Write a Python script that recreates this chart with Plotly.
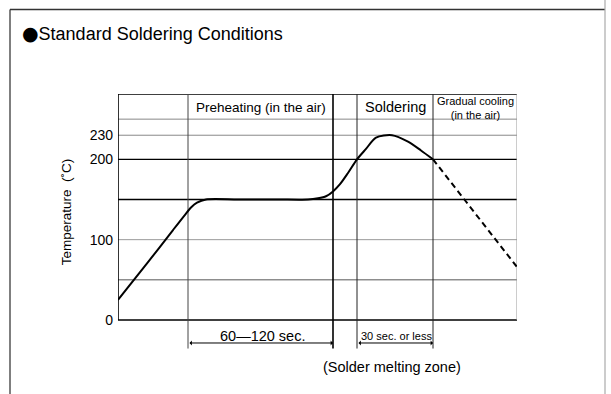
import plotly.graph_objects as go

# ---- data -------------------------------------------------------------
# temperature profile (time in arbitrary units, temperature in deg C)
profile_t = [0, 30, 55, 67, 73, 79, 88, 120, 160, 190, 200, 208, 215, 222,
             230, 239, 248, 258, 274, 290, 303, 315]
profile_temp = [25, 72, 112, 131, 140, 146, 150, 150, 150, 150, 151.5, 154,
                160, 169, 183, 200, 213, 227, 230, 222, 211, 200]
cooling_t = [315, 399]
cooling_temp = [200, 66]

# zone boundaries on the time axis
preheat_start, preheat_end = 70, 215
melt_start, solder_end = 239, 315
t_end = 399

# temperature ticks and guide levels
tick_vals = [0, 100, 200, 230]
tick_text = ["0", "100", "200", "230"]
header_level = 250
y_top = 281.3
y_bottom = -64.7

FONT = "Liberation Sans, Arial, Helvetica, sans-serif"

W, H = 611, 394
ML, MR, MT, MB = 118, 94, 94, 22


def px_x(p):
    return (p - ML) / (W - ML - MR)


def px_y(p):
    return (H - MB - p) / (H - MT - MB)


fig = go.Figure()

fig.add_trace(go.Scatter(
    x=profile_t, y=profile_temp, mode="lines",
    line=dict(color="black", width=2, shape="spline", smoothing=0.8),
    hoverinfo="skip", showlegend=False))
fig.add_trace(go.Scatter(
    x=cooling_t, y=cooling_temp, mode="lines",
    line=dict(color="black", width=2, dash="6px,4px"),
    hoverinfo="skip", showlegend=False))

shapes = []


def hline(y, color, width, x0=0, x1=t_end):
    shapes.append(dict(type="line", xref="x", yref="y", x0=x0, x1=x1, y0=y, y1=y,
                       line=dict(color=color, width=width), layer="below"))


def vline(x, color, width, y0=0, y1=y_top):
    shapes.append(dict(type="line", xref="x", yref="y", x0=x, x1=x, y0=y0, y1=y1,
                       line=dict(color=color, width=width), layer="below"))


# horizontal guides
hline(50, "#555", 1)
hline(100, "#999", 1)
hline(150, "#000", 1.3)
hline(200, "#000", 1.3)
hline(230, "#888", 1)
hline(header_level, "#888", 1)
hline(y_top, "#000", 1.3)
hline(0, "#000", 1.6)

# vertical zone lines (extended below the axis for the dimension marks)
vline(0, "#000", 1.6)
vline(t_end, "#999", 1)
vline(preheat_start, "#444", 1, y0=-35.5)
vline(preheat_end, "#000", 1.6, y0=-35.5)
vline(melt_start, "#222", 1, y0=-35.5)
vline(solder_end, "#222", 1, y0=-35.5)

# outer frame
shapes.append(dict(type="line", xref="paper", yref="paper",
                   x0=px_x(10), x1=px_x(10), y0=px_y(9.5), y1=px_y(H),
                   line=dict(color="#555", width=1.5)))
shapes.append(dict(type="line", xref="paper", yref="paper",
                   x0=px_x(10), x1=px_x(605), y0=px_y(9.5), y1=px_y(9.5),
                   line=dict(color="#333", width=1.5)))
shapes.append(dict(type="line", xref="paper", yref="paper",
                   x0=px_x(605), x1=px_x(605), y0=px_y(0), y1=px_y(H),
                   line=dict(color="#aaa", width=1.2)))

annotations = [
    dict(text='<span style="font-family:DejaVu Sans;font-size:19px">●</span>'
              'Standard Soldering Conditions',
         xref="paper", yref="paper",
         x=px_x(20), y=px_y(33), xanchor="left", yanchor="middle", showarrow=False,
         font=dict(family=FONT, size=18, color="black")),
    dict(text="Temperature\u00a0\u00a0(˚C)", xref="paper", yref="y",
         x=px_x(66), y=134, textangle=-90, xanchor="center", yanchor="middle",
         showarrow=False, font=dict(family=FONT, size=13.5, color="black")),
    dict(text="Preheating (in the air)", xref="x", yref="y",
         x=(preheat_start + preheat_end) / 2, y=265, showarrow=False,
         font=dict(family=FONT, size=13.5, color="black")),
    dict(text="Soldering", xref="x", yref="y",
         x=(melt_start + solder_end) / 2, y=265, showarrow=False,
         font=dict(family=FONT, size=14.5, color="black")),
    dict(text="Gradual cooling<br>(in the air)", xref="x", yref="y",
         x=(solder_end + t_end) / 2, y=264.5, showarrow=False,
         font=dict(family=FONT, size=11, color="black")),
    dict(text="60—120 sec.", xref="x", yref="y",
         x=(preheat_start + preheat_end) / 2 + 2, y=-20, showarrow=False,
         font=dict(family=FONT, size=14.5, color="black")),
    dict(text="30 sec. or less", xref="x", yref="y",
         x=(melt_start + solder_end) / 2 + 1, y=-20, showarrow=False,
         font=dict(family=FONT, size=11, color="black")),
    dict(text="(Solder melting zone)", xref="x", yref="y",
         x=274, y=-58, showarrow=False,
         font=dict(family=FONT, size=14.5, color="black")),
]

# dimension arrows
for a, b in [(preheat_start, preheat_end), (melt_start, solder_end)]:
    annotations.append(dict(
        text="", xref="x", yref="y", axref="x", ayref="y",
        x=b, y=-28.6, ax=a, ay=-28.6, showarrow=True,
        arrowhead=1, arrowside="end+start", arrowsize=0.8, arrowwidth=1,
        arrowcolor="black", standoff=0, startstandoff=0))

fig.update_layout(
    width=W, height=H,
    margin=dict(l=ML, r=MR, t=MT, b=MB, pad=0),
    paper_bgcolor="white", plot_bgcolor="white",
    shapes=shapes, annotations=annotations,
    showlegend=False,
    xaxis=dict(range=[0, t_end], visible=False, fixedrange=True),
    yaxis=dict(range=[y_bottom, y_top], tickvals=tick_vals, ticktext=tick_text,
               showgrid=False, zeroline=False, showline=False, ticks="",
               ticklabelstandoff=4,
               tickfont=dict(family=FONT, size=14, color="black"),
               fixedrange=True),
)

fig.write_html("out.html")
